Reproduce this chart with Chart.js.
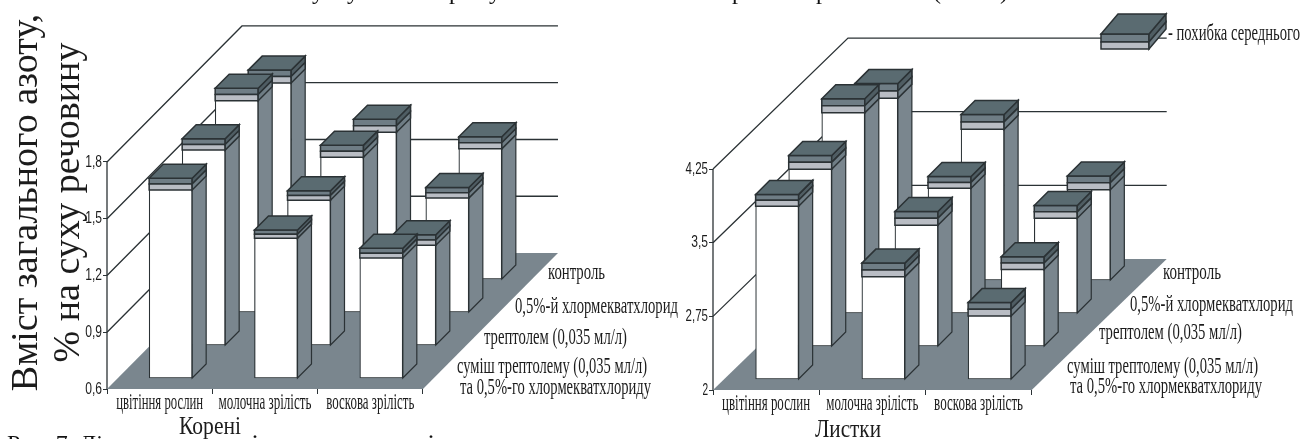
<!DOCTYPE html>
<html lang="uk">
<head>
<meta charset="utf-8">
<title>Вміст загального азоту</title>
<script src="https://cdn.jsdelivr.net/npm/chart.js@4/dist/chart.umd.min.js"></script>
<style>
    html, body { margin: 0; padding: 0; background: #fff; overflow: hidden; }
    #page { position: relative; width: 1303px; height: 439px; overflow: hidden; }
    canvas { position: absolute; top: 0; }
    .txt { position: absolute; font-family: "Liberation Serif", serif; color: #111; white-space: pre; line-height: 1; }
</style>
</head>
<body>
<div id="page">
    <canvas id="roots-chart" width="680" height="439" style="left:0"></canvas>
    <canvas id="leaves-chart" width="623" height="439" style="left:680px"></canvas>
    <!-- what is left of the page text above and below the figure -->
    <div class="txt" style="left:312px; top:-21px; font-size:24px;">у</div>
    <div class="txt" style="left:347px; top:-21px; font-size:24px;">у</div>
    <div class="txt" style="left:449px; top:-21px; font-size:24px;">р</div>
    <div class="txt" style="left:489px; top:-21px; font-size:24px;">у</div>
    <div class="txt" style="left:732px; top:-21px; font-size:24px;">р</div>
    <div class="txt" style="left:816px; top:-21px; font-size:24px;">р</div>
    <div class="txt" style="left:933px; top:-21px; font-size:24px;">(</div>
    <div class="txt" style="left:1000px; top:-21px; font-size:24px;">)</div>
    <div class="txt" style="left:7px; top:431px; font-size:24px;">Рис. 7. Ді</div>
    <div class="txt" style="left:252px; top:418px; font-size:24px;">.</div>
    <div class="txt" style="left:428px; top:418px; font-size:24px;">.</div>
</div>
<script>
// Categories and series, front row first
const categories = ['цвітіння рослин', 'молочна зрілість', 'воскова зрілість'];
const seriesNames = ['суміш', 'треп', 'хлор', 'контроль'];

// Корені: mean values
const rootsMix = [1.625, 1.36, 1.26];
const rootsTreptolem = [1.66, 1.39, 1.155];
const rootsChlormequat = [1.75, 1.45, 1.23];
const rootsControl = [1.67, 1.41, 1.32];
const rootsMixErr = [0.031, 0.022, 0.026];
const rootsTreptolemErr = [0.03, 0.025, 0.028];
const rootsChlormequatErr = [0.033, 0.032, 0.028];
const rootsControlErr = [0.034, 0.034, 0.032];
const rootsTicks = [0.6, 0.9, 1.2, 1.5, 1.8];

// Листки
const leavesMix = [3.82, 3.11, 2.71];
const leavesTreptolem = [3.87, 3.30, 2.845];
const leavesChlormequat = [4.11, 3.33, 3.03];
const leavesControl = [3.925, 3.61, 2.99];
const leavesMixErr = [0.06, 0.07, 0.068];
const leavesTreptolemErr = [0.07, 0.07, 0.065];
const leavesChlormequatErr = [0.072, 0.06, 0.065];
const leavesControlErr = [0.075, 0.076, 0.07];
const leavesTicks = [2, 2.75, 3.5, 4.25];

const sideLabels = ['контроль', '0,5%-й хлормекватхлорид', 'трептолем (0,035 мл/л)',
    'суміш трептолему (0,035 мл/л)', 'та 0,5%-го хлормекватхлориду'];

// Look of the pseudo 3D boxes
const FLOOR = '#7a868e';
const TOP = '#5a6b71';
const STRIPE_DARK = '#6f7d85';
const STRIPE_LIGHT = '#b9bdc4';
const SIDE_DARK = '#4f5d63';
const LINE = '#2b3235';
const TEXT = '#1c1c1c';
const SERIF = '"Liberation Serif", serif';
const SANS = '"Liberation Sans", sans-serif';

// Depth of the rows in pixels
const FIRST_ROW = 11;
const ROW_STEP = 33;
const BAR_DEPTH = 14;
const BAR_WIDTH = 43;

function drawText(ctx, text, x, y, font, width, align) {
    ctx.save();
    ctx.font = font;
    ctx.fillStyle = TEXT;
    ctx.textBaseline = 'middle';
    ctx.textAlign = align || 'left';
    ctx.translate(x, y);
    ctx.scale(width / ctx.measureText(text).width, 1);
    ctx.fillText(text, 0, 0);
    ctx.restore();
}

function poly(ctx, pts, fill) {
    ctx.beginPath();
    pts.forEach((p, i) => i ? ctx.lineTo(p[0], p[1]) : ctx.moveTo(p[0], p[1]));
    ctx.closePath();
    ctx.fillStyle = fill;
    ctx.fill();
    ctx.stroke();
}

// Floor, walls and axis labels go under the bars, sides and caps go with each row
const box3d = {
    id: 'box3d',
    beforeDatasetsDraw(chart, args, opts) {
        const ctx = chart.ctx;
        const x = chart.scales.x, y = chart.scales.y;
        const x0 = x.getPixelForValue(0), x3 = x.getPixelForValue(3);
        const yMin = y.getPixelForValue(y.min);
        ctx.save();
        ctx.lineWidth = 1.3;
        ctx.strokeStyle = LINE;
        opts.ticks.forEach(v => {
            if (v === y.min) return;
            const py = y.getPixelForValue(v);
            ctx.beginPath();
            ctx.moveTo(x0, py);
            ctx.lineTo(x0 + opts.wallDx, py - opts.wallDy);
            ctx.lineTo(x3 + opts.wallDx, py - opts.wallDy);
            ctx.stroke();
        });
        ctx.beginPath();
        ctx.moveTo(x0, yMin);
        ctx.lineTo(x0, y.getPixelForValue(opts.ticks[opts.ticks.length - 1]));
        ctx.stroke();
        ctx.fillStyle = FLOOR;
        ctx.beginPath();
        ctx.moveTo(x0, yMin);
        ctx.lineTo(x3, yMin);
        ctx.lineTo(x3 + opts.wallDx, yMin - opts.wallDy);
        ctx.lineTo(x0 + opts.wallDx, yMin - opts.wallDy);
        ctx.closePath();
        ctx.fill();
        ctx.restore();
    },
    beforeDatasetDraw(chart, args) {
        const ctx = chart.ctx;
        ctx.save();
        ctx.lineWidth = 1.2;
        ctx.strokeStyle = LINE;
        args.meta.data.forEach(bar => {
            const r = bar.x + bar.width / 2;
            const errPx = errorPixels(chart, args.index, bar);
            const t = bar.y - errPx;
            poly(ctx, [[r, t], [r + BAR_DEPTH, t - BAR_DEPTH], [r + BAR_DEPTH, bar.base - BAR_DEPTH], [r, bar.base]], FLOOR);
        });
        ctx.restore();
    },
    afterDatasetDraw(chart, args) {
        const ctx = chart.ctx;
        ctx.save();
        ctx.lineWidth = 1.5;
        ctx.strokeStyle = LINE;
        args.meta.data.forEach(bar => {
            const l = bar.x - bar.width / 2, r = bar.x + bar.width / 2;
            const errPx = errorPixels(chart, args.index, bar);
            const t = bar.y - errPx, m = bar.y, b = bar.y + errPx;
            const d = BAR_DEPTH;
            poly(ctx, [[l, t], [r, t], [r, m], [l, m]], STRIPE_DARK);
            poly(ctx, [[l, m], [r, m], [r, b], [l, b]], STRIPE_LIGHT);
            poly(ctx, [[r, t], [r + d, t - d], [r + d, m - d], [r, m]], SIDE_DARK);
            poly(ctx, [[r, m], [r + d, m - d], [r + d, b - d], [r, b]], STRIPE_DARK);
            poly(ctx, [[l, t], [r, t], [r + d, t - d], [l + d, t - d]], TOP);
        });
        ctx.restore();
    },
    afterDraw(chart, args, opts) {
        const ctx = chart.ctx;
        const x = chart.scales.x, y = chart.scales.y;
        const labelY = y.getPixelForValue(y.min) + 14;
        categories.forEach((c, i) => {
            drawText(ctx, c, x.getPixelForValue(i + 0.5), labelY, '23px ' + SERIF, opts.catWidths[i], 'center');
        });
        opts.ticks.forEach(v => {
            const label = String(v).replace('.', ',');
            drawText(ctx, label, x.left - 5, y.getPixelForValue(v), '17px ' + SANS, label.length * 5.6, 'right');
        });
        sideLabels.forEach((s, i) => {
            const p = opts.sidePos[i];
            drawText(ctx, s, p[0], p[1], '24px ' + SERIF, p[2]);
        });
        drawText(ctx, opts.panelName, opts.panelPos[0], opts.panelPos[1], '25px ' + SERIF, opts.panelPos[2], 'center');
        if (opts.legend) drawLegend(ctx, opts.legend);
    }
};

function errorPixels(chart, index, bar) {
    const ds = chart.data.datasets[index];
    const i = chart.getDatasetMeta(index).data.indexOf(bar);
    const y = chart.scales.y;
    return Math.abs(y.getPixelForValue(y.min + ds.errors[i]) - y.getPixelForValue(y.min));
}

// The small sample box top right of the leaves panel
function drawLegend(ctx, g) {
    const l = g.x, r = g.x + 48, t = g.y, m = g.y + 8, b = g.y + 15;
    const dx = 17, dy = 20;
    ctx.save();
    ctx.lineWidth = 1.5;
    ctx.strokeStyle = LINE;
    poly(ctx, [[l, t], [r, t], [r, m], [l, m]], STRIPE_DARK);
    poly(ctx, [[l, m], [r, m], [r, b], [l, b]], STRIPE_LIGHT);
    poly(ctx, [[r, t], [r + dx, t - dy], [r + dx, m - dy], [r, m]], SIDE_DARK);
    poly(ctx, [[r, m], [r + dx, m - dy], [r + dx, b - dy], [r, b]], STRIPE_DARK);
    poly(ctx, [[l, t], [r, t], [r + dx, t - dy], [l + dx, t - dy]], TOP);
    ctx.restore();
    drawText(ctx, '- похибка середнього', g.x + 67, g.y, '24px ' + SERIF, 132);
}

function makePanel(canvasId, cfg) {
    // Bars are lifted and shifted by their row so the rows stand one behind the other
    const datasets = cfg.values.map((vals, row) => {
        const off = FIRST_ROW + ROW_STEP * row;
        return {
            label: seriesNames[row],
            errors: cfg.errors[row],
            data: vals.map((v, c) => ({
                x: c + 0.5 + off / cfg.catPx,
                y: [cfg.ticks[0] + off / cfg.unitPx, v + off / cfg.unitPx]
            })),
            backgroundColor: '#fff',
            borderColor: LINE,
            borderWidth: 1.2,
            borderSkipped: false,
            barThickness: BAR_WIDTH,
            grouped: false
        };
    });

    return new Chart(document.getElementById(canvasId), {
        type: 'bar',
        data: { datasets },
        plugins: [box3d],
        options: {
            responsive: false,
            animation: false,
            devicePixelRatio: 1,
            layout: { padding: { top: cfg.top, right: cfg.padRight } },
            plugins: {
                legend: { display: false },
                tooltip: { enabled: false },
                box3d: {
                    ticks: cfg.ticks,
                    wallDx: cfg.wallDx,
                    wallDy: cfg.wallDy,
                    sidePos: cfg.sidePos,
                    panelName: cfg.panelName,
                    panelPos: cfg.panelPos,
                    catWidths: cfg.catWidths,
                    legend: cfg.legend
                }
            },
            scales: {
                x: {
                    type: 'linear',
                    offset: false,
                    min: 0,
                    max: 3 + cfg.wallDx / cfg.catPx,
                    afterBuildTicks: axis => { axis.ticks = [0, 1, 2, 3].map(value => ({ value })); },
                    afterFit: axis => { axis.height = cfg.bottom; },
                    ticks: { display: false },
                    border: { display: false },
                    grid: { offset: false, drawOnChartArea: false, tickLength: 5, color: LINE }
                },
                y: {
                    type: 'linear',
                    min: cfg.ticks[0],
                    max: cfg.ticks[0] + (439 - cfg.bottom - cfg.top) / cfg.unitPx,
                    afterBuildTicks: axis => { axis.ticks = cfg.ticks.map(value => ({ value })); },
                    afterFit: axis => { axis.width = cfg.axisWidth; },
                    ticks: { display: false },
                    border: { display: false },
                    grid: { drawOnChartArea: false, tickLength: 4, color: LINE },
                    title: cfg.title
                }
            }
        }
    });
}

makePanel('roots-chart', {
    values: [rootsMix, rootsTreptolem, rootsChlormequat, rootsControl],
    errors: [rootsMixErr, rootsTreptolemErr, rootsChlormequatErr, rootsControlErr],
    ticks: rootsTicks,
    catPx: 105.3,
    unitPx: 189.2,
    wallDx: 135,
    wallDy: 136,
    top: 16,
    bottom: 50,
    axisWidth: 107,
    padRight: 122,
    catWidths: [87, 93, 88],
    panelName: 'Корені',
    panelPos: [210, 427, 62],
    sidePos: [[548, 273, 57], [515, 307, 163], [484, 338, 143], [457, 367, 190], [460, 388, 191]],
    title: {
        display: true,
        text: ['Вміст загального азоту,', '% на суху речовину'],
        font: { family: SERIF, size: 38, lineHeight: 1.1 },
        color: TEXT,
        padding: { top: 6, bottom: 0 }
    }
});

makePanel('leaves-chart', {
    values: [leavesMix, leavesTreptolem, leavesChlormequat, leavesControl],
    errors: [leavesMixErr, leavesTreptolemErr, leavesChlormequatErr, leavesControlErr],
    ticks: leavesTicks,
    catPx: 106,
    unitPx: 98.2,
    wallDx: 135,
    wallDy: 131,
    top: 30,
    bottom: 49,
    axisWidth: 33,
    padRight: 136,
    catWidths: [88, 92, 89],
    panelName: 'Листки',
    panelPos: [168, 430, 66],
    sidePos: [[483, 273, 58], [450, 305, 163], [419, 333, 143], [387, 367, 191], [390, 387, 192]],
    title: { display: false },
    legend: { x: 421, y: 34 }
});
</script>
</body>
</html>
